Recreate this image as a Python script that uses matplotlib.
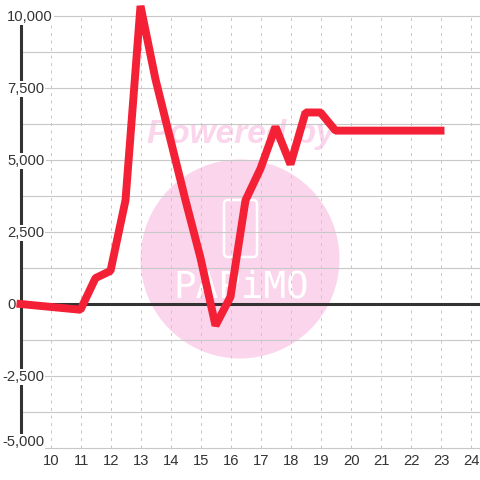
import numpy as np
import matplotlib
matplotlib.use("Agg")
import matplotlib.pyplot as plt
from matplotlib.patches import Circle, FancyBboxPatch

hours = [9, 11, 11.5, 12, 12.5, 13, 13.5, 14, 14.5, 15, 15.5, 16, 16.5, 17, 17.5, 18, 18.5, 19, 19.5, 20, 21, 22, 23]
values = [0, -200, 900, 1150, 3600, 10350, 7800, 5700, 3600, 1600, -750, 250, 3600, 4700, 6150, 4850, 6650, 6650, 6020, 6020, 6020, 6020, 6020]
x_ticks = list(range(10, 25))
y_major = [10000, 7500, 5000, 2500, 0, -2500, -5000]
y_labels = ["10,000", "7,500", "5,000", "2,500", "0", "-2,500", "-5,000"]
y_minor = [8750, 6250, 3750, 1250, -1250, -3750]

plt.rcParams['font.family'] = ['Liberation Sans', 'DejaVu Sans']

fig = plt.figure(figsize=(4.8, 4.8), dpi=100)

# watermark sits below the chart, in pixel coordinates
wm = fig.add_axes([0, 0, 1, 1], zorder=0)
wm.set_xlim(0, 480)
wm.set_ylim(480, 0)
wm.axis('off')
wm.add_patch(Circle((240, 259), 99.5, color='#fbd5ec', lw=0))
wm.add_patch(FancyBboxPatch((224, 200), 33, 57, boxstyle='round,pad=0,rounding_size=4', fc='none', ec='white', lw=1.8))
wm.text(241, 134, 'Powered by', color='#fbd5ec', fontsize=24, fontweight='bold', fontstyle='italic', ha='center', va='center')
wm.text(241, 288, 'PAPiMO', color='white', fontsize=27, family='DejaVu Sans Mono', ha='center', va='center')

ax = fig.add_axes([0, 0, 1, 1], zorder=1)
ax.set_xlim(10 - 50.5 / 30, 10 + 429.5 / 30)
ax.set_ylim(-5000 - 32 * 2500 / 72, 10000 + 16 * 2500 / 72)
ax.axis('off')

for t in x_ticks:
    ax.plot([t, t], [-5000, 10000], color='#c8c8c8', lw=0.72, ls=(0, (3, 4.5)), zorder=1)
for v in y_minor + y_major:
    ax.plot([9.05, 30], [v, v], color='#c8c8c8', lw=0.8, zorder=1)

ax.plot([9, 9], [-5000, 9750], color='#333333', lw=2.2, solid_capstyle='butt', zorder=2)
ax.plot([9, 30], [0, 0], color='#333333', lw=2.2, zorder=3)

for v, lab in zip(y_major, y_labels):
    lx = 2 if v < 0 else 7
    # bottom label is pushed up off the axis line
    dy = 6 if v == -5000 else -1
    ax.annotate(lab, xy=(lx / 480, v), xycoords=('axes fraction', 'data'), xytext=(0, dy), textcoords='offset pixels',
                ha='left', va='center', fontsize=10.6, color='#333333', zorder=3.5,
                bbox=dict(fc='white', ec='none', pad=1.0))
for t in x_ticks:
    ax.annotate(str(t), xy=(t, 0), xycoords=('data', 'axes fraction'), xytext=(1, 19), textcoords='offset pixels',
                ha='center', va='center', fontsize=10.6, color='#333333', zorder=5)

ax.plot(hours, values, color='#f32036', lw=5.7, solid_joinstyle='bevel', solid_capstyle='projecting', zorder=4)

fig.savefig('out.png', dpi=100)
